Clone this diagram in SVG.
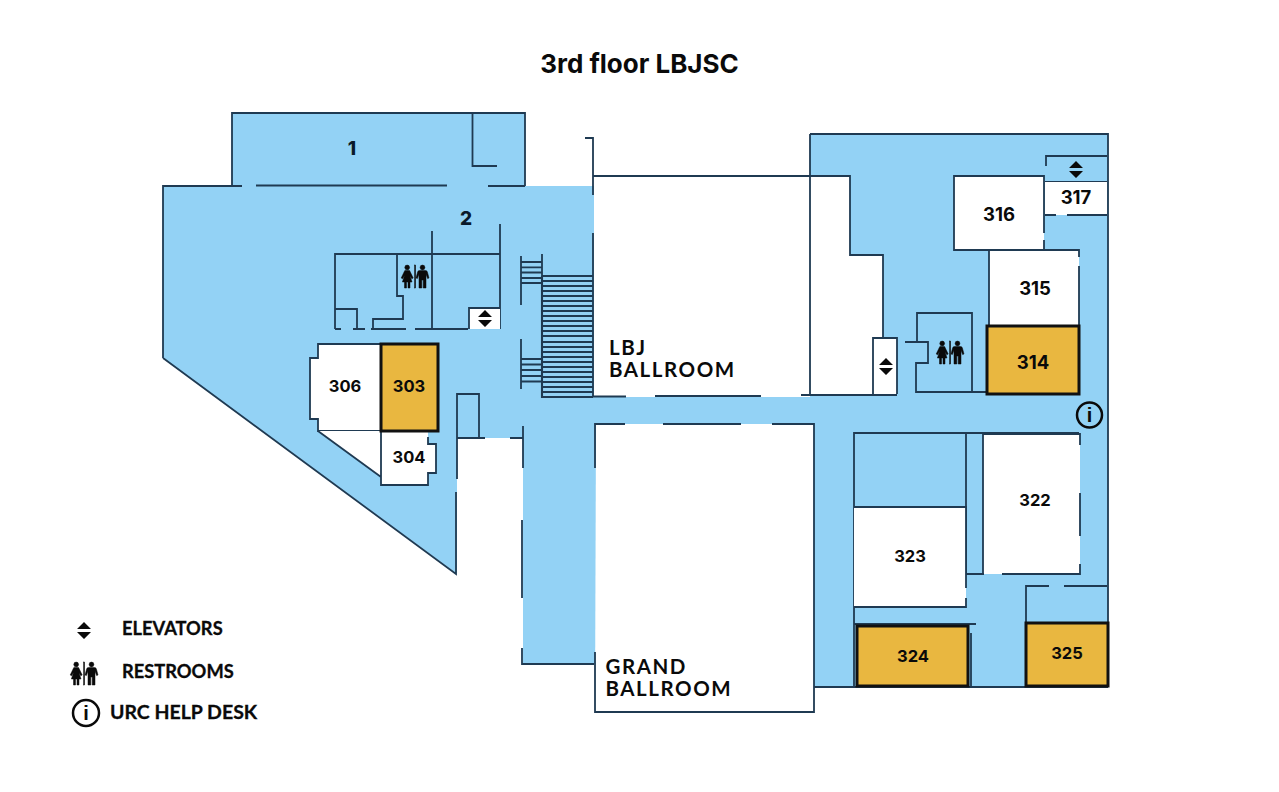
<svg xmlns="http://www.w3.org/2000/svg" width="1279" height="792" viewBox="0 0 1279 792">
<style>
.w{fill:none;stroke:#1f3a52;stroke-width:1.8}
.s{stroke-width:2.100}
.t{stroke:#111;stroke-width:3;fill:#e9b740}
.r{fill:#fff;stroke:none}
.n{font-family:"Inter","Liberation Sans",sans-serif;font-weight:700;font-size:16.5px;fill:#0a0a0a;text-anchor:middle}
.g{font-size:18.500px}
.b{font-family:"Lato","Liberation Sans",sans-serif;font-weight:700;font-size:20.5px;letter-spacing:1.55px;fill:#0a0a0a}
.l{font-family:"Lato","Liberation Sans",sans-serif;font-weight:700;fill:#0a0a0a;stroke:#0a0a0a;stroke-width:.3px}
.i{font-family:"Liberation Sans",sans-serif;font-weight:700;font-size:20px;fill:#0a0a0a;text-anchor:middle}
.c{fill:none;stroke:#0a0a0a;stroke-width:2.5}
.a{font-family:"Inter","Liberation Sans",sans-serif;font-weight:800;font-size:19px;text-anchor:middle;fill:#0a1a2a}
</style>
<defs>
<g id="elev"><path d="M7 0L14 7H0ZM0 10H14L7 17Z" fill="#0a0a0a"/></g>
<g id="wc" fill="#0a0a0a" stroke="#0a0a0a" stroke-width=".5">
<circle cx="6.200" cy="2.500" r="2.400"/>
<path d="M3.800 5.600H8.600L12.200 13L10.800 13.700L8.900 10.500L11 17H9V23H7V17H5.500V23H3.500V17H1.400L3.500 10.500L1.600 13.700L0.200 13Z"/>
<rect x="13.600" y="0" width="1" height="23"/>
<circle cx="21.500" cy="2.500" r="2.400"/>
<path d="M18.500 5.600H24.500Q26 5.600 26.400 7L28 13L26.600 13.600L25 9.200V23H22.200V15H20.800V23H18V9.200L16.400 13.600L15 13L16.600 7Q17 5.600 18.500 5.600Z"/>
</g>
</defs>
<rect width="1279" height="792" fill="#fff"/>
<text x="639.500" y="73" font-family="Inter,'Liberation Sans',sans-serif" font-weight="700" font-size="26px" text-anchor="middle" fill="#0a0a0a">3rd floor LBJSC</text>

<g id="floor">
<path d="M163 186H232V113H525V186H594V397H810V134H1108V687H814V424H596V664H523V438H457V574L163 358Z" fill="#93d2f5"/>
<path class="r" d="M594 176H810V396H594Z"/>
<path class="r" d="M810 176H850V255H883V394H810Z"/>
<path class="r" d="M596 424H814V712H595Z"/>
</g>

<g id="walls" class="w">
<path d="M232 186V113H525V186M163 358V186H242M256 185.500H447M488 186H525M163 358L456 574V492M457 479V394H479V438M457 438H485M510 438H523M523 426V468M522 520V598M522 648V664H594"/>
<path d="M472.500 113V166H497"/>
<path d="M585 138H593V195M593 233V397M593 176H810M810 134H1108V687M810 134V395"/>
<path d="M593 396.500H626M655 396H761M801 395H897"/>
<path d="M595 468V424H625M663 424H741M772 424H814V712H595V652M814 687H1108"/>
<path d="M810 176H850V255H883V338"/>
<path d="M335 329V254H500M500 224V329M432 231V329M335 309H357V329M335 329H341M353 329H365M371 329H406M415 329H468M397 254V296H403V319H373V329"/>
<path d="M521 256V305M521 339V389M521 262H542M521 267.300H542M521 272.500H542M521 278H542M521 283H542M521 359H542M521 364.500H542M521 370H542M521 376H542M521 381.500H542M542 254V276"/>
<path class="s" d="M542 276V397H593M542 276H593M542 281H593M542 286H593M542 291H593M542 296H593M542 301H593M542 306H593M542 311H593M542 316H593M542 321H593M542 326H593M542 331H593M542 336H593M542 342H593M542 347H593M542 352H593M542 357H593M542 362H593M542 367H593M542 372H593M542 377H593M542 382H593M542 387H593M542 392H593"/>
<path d="M917 342V313H972V392M905 342H928V363H916V392H987"/>
<path d="M1046 166V156H1107M1045 182H1107"/>
<path d="M854 687V433H1079M966 433V574H984M854 624H976M971 633V687M1026 622V586H1049M1064 586H1107"/>
</g>

<g id="room-306"><path class="r" d="M318 344H380V431H318V419H310V358H318Z"/><path class="w" d="M380 344H318V358H310V419H318V431H380"/><text class="n" x="345" y="392">306</text></g>
<g id="room-304"><path class="r" d="M318 431L381 477V485H428V473H436V444H428V431Z"/><path class="w" d="M318 431L381 477M381 431V485H428V473H436V444H428V437"/><text class="n" x="409" y="463">304</text></g>
<g id="room-303"><rect class="t" x="381" y="344" width="57" height="87"/><text class="n" x="409" y="392">303</text></g>
<g id="room-316"><rect class="r" x="954" y="176" width="90" height="74"/><path class="w" d="M1044 233V176H954V250H1044V240"/><text class="n g" x="999" y="221">316</text></g>
<g id="room-317"><rect class="r" x="1045" y="182" width="62" height="33"/><path class="w" d="M1045 215H1056M1067 215H1107"/><text class="n g" x="1076" y="204">317</text></g>
<g id="room-315"><rect class="r" x="989" y="250" width="90" height="76"/><path class="w" d="M989 326V250H1079V257M1079 266V326"/><text class="n g" x="1035" y="295">315</text></g>
<g id="room-314"><rect class="t" x="987" y="326" width="92" height="68"/><text class="n g" x="1033" y="369">314</text></g>
<g id="room-322"><rect class="r" x="983" y="434" width="97" height="140"/><path class="w" d="M983 434V574H984M1002 574H1080V564M1080 536V493M1080 445V434H983"/><text class="n" x="1035" y="506">322</text></g>
<g id="room-323"><rect class="r" x="854" y="507" width="112" height="100"/><path class="w" d="M854 507H966V588M966 598V607H854"/><text class="n" x="910" y="562">323</text></g>
<g id="room-324"><rect class="t" x="857" y="626" width="111" height="60"/><text class="n" x="913" y="662">324</text></g>
<g id="room-325"><rect class="t" x="1026" y="623" width="82" height="63"/><text class="n" x="1067" y="659">325</text></g>

<g id="elevators">
<path class="r" d="M469 308H500V329H469Z"/><path class="w" d="M469 329V308H500"/>
<use href="#elev" x="478" y="310"/>
<path class="r" d="M873 338H897V394H873Z"/><path class="w" d="M873 394V338H897V394"/>
<use href="#elev" x="879" y="358"/>
<use href="#elev" x="1069" y="161"/>
</g>
<g id="restrooms">
<use href="#wc" x="401" y="265"/>
<use href="#wc" x="936" y="341"/>
</g>
<g id="help-desk"><circle class="c" cx="1089.500" cy="415" r="12.500"/><text class="i" x="1089.500" y="422">i</text></g>

<g id="areas">
<text class="a" x="352" y="155">1</text>
<text class="a" x="466" y="225">2</text>
<text class="b" x="609" y="355">LBJ</text>
<text class="b" x="609" y="377">BALLROOM</text>
<text class="b" x="605.500" y="674">GRAND</text>
<text class="b" x="605.500" y="696">BALLROOM</text>
</g>

<g id="legend">
<use href="#elev" x="77" y="622"/>
<text class="l" x="122" y="635" font-size="18.300px">ELEVATORS</text>
<use href="#wc" x="70" y="662"/>
<text class="l" x="122" y="678" font-size="18.300px">RESTROOMS</text>
<circle class="c" cx="86" cy="713" r="13"/><text class="i" x="86" y="720">i</text>
<text class="l" x="110" y="719" font-size="19.500px">URC HELP DESK</text>
</g>
</svg>
